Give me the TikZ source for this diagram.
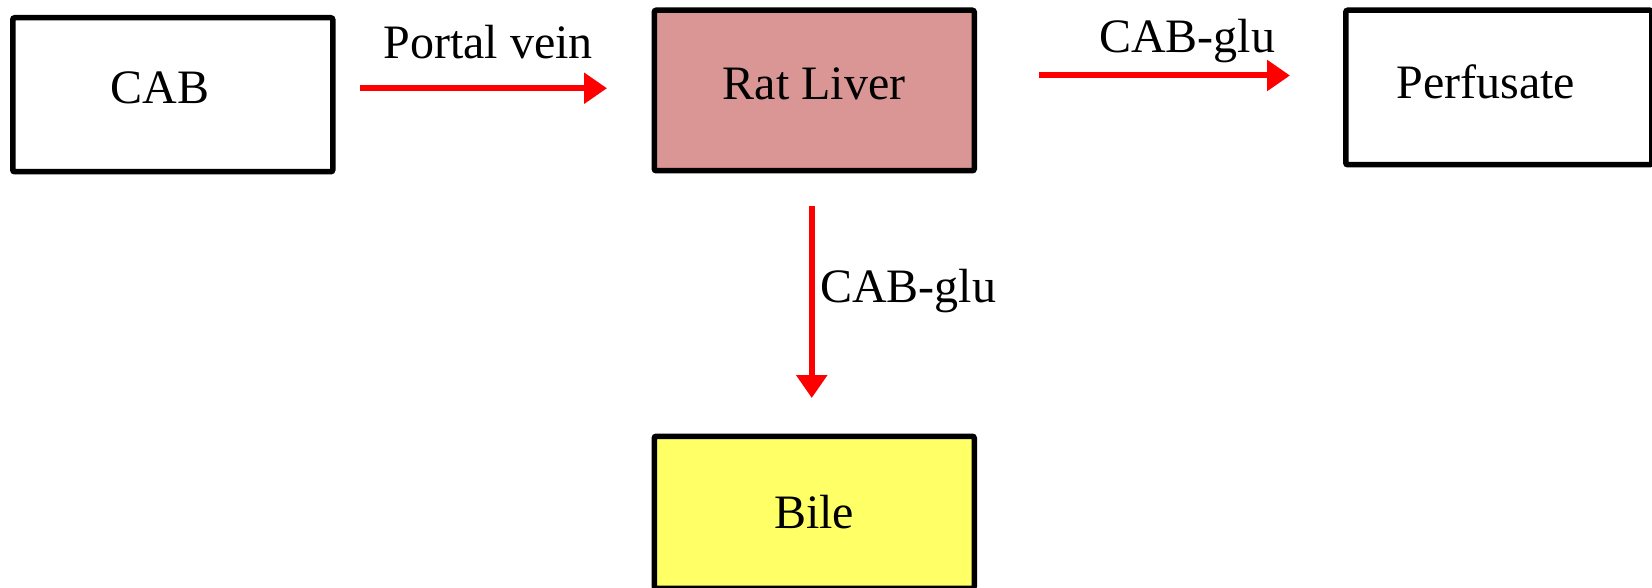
\documentclass[tikz,border=0pt]{standalone}
\usepackage{fontspec}
\setmainfont{Liberation Serif}
\usetikzlibrary{arrows.meta}
\definecolor{liverfill}{HTML}{D99694}
\definecolor{bilefill}{HTML}{FFFF66}
\definecolor{flowred}{HTML}{FF0000}
\begin{document}
\begin{tikzpicture}[x=1pt,y=-1pt,
  box/.style={draw=black,line width=5.5pt,rounded corners=2pt,anchor=north west,inner sep=0pt,align=center,
    font=\fontsize{48}{56}\selectfont},
  flow/.style={draw=flowred,line width=6pt,-{Triangle[length=23pt,width=30pt]}},
  lbl/.style={font=\fontsize{48}{56}\selectfont,inner sep=0pt}]
\useasboundingbox (0,0) rectangle (1652,588);
\node[box,minimum width=320pt,minimum height=154pt] (cab) at (10,15) {\raisebox{13.5pt}{CAB}\hspace*{26pt}};
\node[box,fill=liverfill,minimum width=320pt,minimum height=160.5pt] (liver) at (651.5,7.5) {\raisebox{13pt}{Rat Liver}};
\node[box,minimum width=306pt,minimum height=154.5pt] (perf) at (1343,7.5) {\raisebox{11pt}{Perfusate}\hspace*{26pt}};
\node[box,fill=bilefill,minimum width=320pt,minimum height=152pt] (bile) at (651.5,433.5) {\raisebox{-6.5pt}{Bile}};
\draw[flow,shorten <=24pt,shorten >=44.5pt] ([yshift=6.5pt]cab.east) -- ([yshift=6.5pt]cab.east -| liver.west);
\draw[flow,shorten <=62pt,shorten >=53pt] ([yshift=15pt]liver.east) -- ([yshift=15pt]liver.east -| perf.west);
\draw[flow,shorten <=32.5pt,shorten >=35.5pt] ([xshift=-2.5pt]liver.south) -- ([xshift=-2.5pt]bile.north);
\node[lbl] (lpv) at (488,42) {Portal vein};
\node[lbl] (lcg1) at (1187,41) {CAB-glu};
\node[lbl,anchor=west] (lcg2) at (820,291) {CAB-glu};
\end{tikzpicture}
\end{document}
